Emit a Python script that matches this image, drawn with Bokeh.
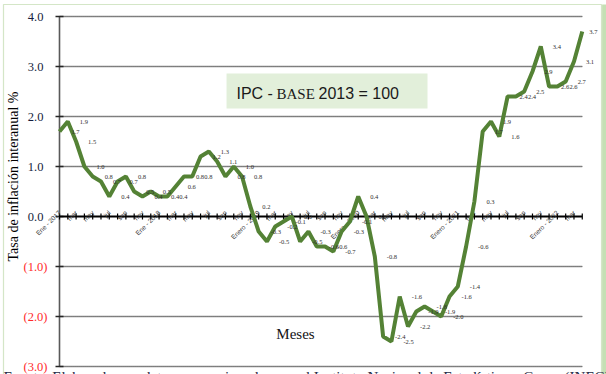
import math
from bokeh.plotting import figure
from bokeh.models import Range1d, BoxAnnotation, Label, ColumnDataSource
from bokeh.core.properties import value
from bokeh.embed import file_html
from bokeh.resources import INLINE

# ---------------- data ----------------
# Monthly year-on-year inflation, Jan 2017 .. Apr 2022
inflation = [1.7, 1.9, 1.5, 1.0, 0.8, 0.7, 0.4, 0.7, 0.8, 0.5, 0.4, 0.5,        # 2017
             0.4, 0.4, 0.6, 0.8, 0.8, 1.2, 1.3, 1.1, 0.8, 1.0, 0.8, 0.2,        # 2018
             -0.3, -0.5, -0.2, -0.1, 0.0, -0.5, -0.3, -0.6, -0.6, -0.7, -0.3, -0.1,  # 2019
             0.4, 0.0, -0.8, -2.4, -2.5, -1.6, -2.2, -1.9, -1.8, -1.9, -2.0, -1.6,   # 2020
             -1.4, -0.6, 0.3, 1.7, 1.9, 1.6, 2.4, 2.4, 2.5, 2.9, 3.4, 2.6,      # 2021
             2.6, 2.7, 3.1, 3.7]                                               # 2022
months = list(range(len(inflation)))

tick_labels = ["Ene - 2017", "mar", "may", "jul", "sep", "nov",
               "Ene - 2018", "mar", "may", "jul", "sep", "nov",
               "Enero - 2019", "mar", "may", "jul", "sep", "nov",
               "Enero - 2020", "mar", "may", "jul", "sep", "nov",
               "Enero - 2021", "mar", "may", "jul", "sep", "nov",
               "Enero - 2022", "mar"]
tick_step = 2

y_ticks = [4.0, 3.0, 2.0, 1.0, 0.0, -1.0, -2.0, -3.0]
y_tick_labels = ["4.0", "3.0", "2.0", "1.0", "0.0", "(1.0)", "(2.0)", "(3.0)"]

y_title = "Tasa de inflación interanual %"
x_title = "Meses"
box_text = ["IPC - ", "BASE", "2013 = 100"]
source_note = ("Fuente: Elaborado con datos proporcionados por el Instituto Nacional "
               "de Estadística y Censo (INEC)")

# ---------------- styles ----------------
GREEN = "#548235"
SERIF = "Liberation Serif"
SANS = "Liberation Sans"

p = figure(width=606, height=374,
           x_range=Range1d(-7.110, 65.92), y_range=Range1d(-3.16, 4.32),
           output_backend="svg", toolbar_location=None,
           x_axis_location=None, y_axis_location=None,
           min_border=0, background_fill_color="white", border_fill_color="white")
p.grid.visible = False
p.outline_line_color = None

first, last = months[0], months[-1]

# chart border (light band on the right, thin green frame)
p.add_layout(BoxAnnotation(left=65.40, right=66.2, top=4.24, bottom=-3.4,
                           fill_color="#c5e0b4", fill_alpha=1.0, line_color=None))
p.add_layout(BoxAnnotation(left=-6.749, right=65.32, top=4.24, bottom=-3.4,
                           fill_alpha=0.0, line_color="#70ad47", line_width=1.2))

# grid lines (only across the data span)
grid_vals = [v for v in y_ticks if v != 0]
gsrc = ColumnDataSource(dict(x0=[first] * len(grid_vals), x1=[last] * len(grid_vals), y=grid_vals))
p.segment(x0="x0", x1="x1", y0="y", y1="y", source=gsrc, line_color="#c4c4c4", line_width=2)
p.segment(x0="x0", x1="x1", y0="y", y1="y", source=gsrc, line_color="#3a3a3a",
          line_width=1, line_dash="1 1")

# y axis line + ticks
p.segment(x0=[first], x1=[first], y0=[min(y_ticks)], y1=[max(y_ticks)],
          line_color="#595959", line_width=1.6)
p.scatter(x=[first] * len(y_ticks), y=y_ticks, marker="dash", size=8,
          line_color="#262626", line_width=1.4)
ysrc = ColumnDataSource(dict(
    x=[first] * len(y_ticks), y=y_ticks, t=y_tick_labels,
    c=["#ff2b2b" if v < 0 else "#141c3c" for v in y_ticks],
    off=[-12 if v < 0 else -16 for v in y_ticks]))
p.text(x="x", y="y", text="t", source=ysrc, text_color="c", x_offset="off",
       text_align="right", text_baseline="middle",
       text_font=value(SERIF), text_font_size="12.5px")

# zero line (x axis) with ticks
p.line(x=[first, last], y=[0, 0], line_color="black", line_width=2)
p.scatter(x=months, y=[0] * len(months), marker="dash", angle=math.pi / 2, size=6,
          line_color="black", line_width=1.2)
tick_pos = months[::tick_step][:len(tick_labels)]
p.text(x=tick_pos, y=[0] * len(tick_pos), text=tick_labels, angle=math.pi / 4,
       text_align="right", text_baseline="middle", x_offset=0, y_offset=-5,
       text_font=value(SANS), text_font_size="6.5px", text_color="#333333")

# text box
p.add_layout(BoxAnnotation(left=20.13, right=44.35, bottom=2.16, top=2.86,
                           fill_color="#e2efda", fill_alpha=1.0, line_color=None))
p.add_layout(Label(x=21.33, y=2.46, text=box_text[0], text_font=SANS,
                   text_font_size="16px", text_color="#1a1a1a", text_baseline="alphabetic"))
p.add_layout(Label(x=26.15, y=2.46, text=box_text[1], text_font=SERIF,
                   text_font_size="15px", text_color="#1a1a1a", text_baseline="alphabetic"))
p.add_layout(Label(x=31.21, y=2.46, text=box_text[2], text_font=SANS,
                   text_font_size="16px", text_color="#1a1a1a", text_baseline="alphabetic"))

# series line
p.line(x=months, y=inflation, line_color=GREEN, line_width=4)

# data labels
lab_off = [12] * (len(inflation) - 1) + [7]
dsrc = ColumnDataSource(dict(x=months, y=inflation, t=[f"{v:.1f}" for v in inflation], off=lab_off))
p.text(x="x", y="y", text="t", source=dsrc, x_offset="off", text_align="left",
       text_baseline="middle", text_font=value(SERIF), text_font_size="6.5px",
       text_color="#303030")

# axis titles
p.add_layout(Label(x=-5.54, y=0.8, text=y_title, angle=math.pi / 2, text_align="center",
                   text_baseline="middle", text_font=SERIF, text_font_size="14px",
                   text_color="black"))
p.add_layout(Label(x=28.44, y=-2.34, text=x_title, text_align="center",
                   text_baseline="alphabetic", text_font=SERIF, text_font_size="15px",
                   text_color="#141414"))

# source note (cut by the bottom edge, as in the original)
p.add_layout(Label(x=-6.75, y=-3.05, text=source_note, text_align="left",
                   text_baseline="top", text_font=SERIF, text_font_size="15px",
                   text_color="#1f2a44"))

open("out.html", "w").write(file_html(p, INLINE))
